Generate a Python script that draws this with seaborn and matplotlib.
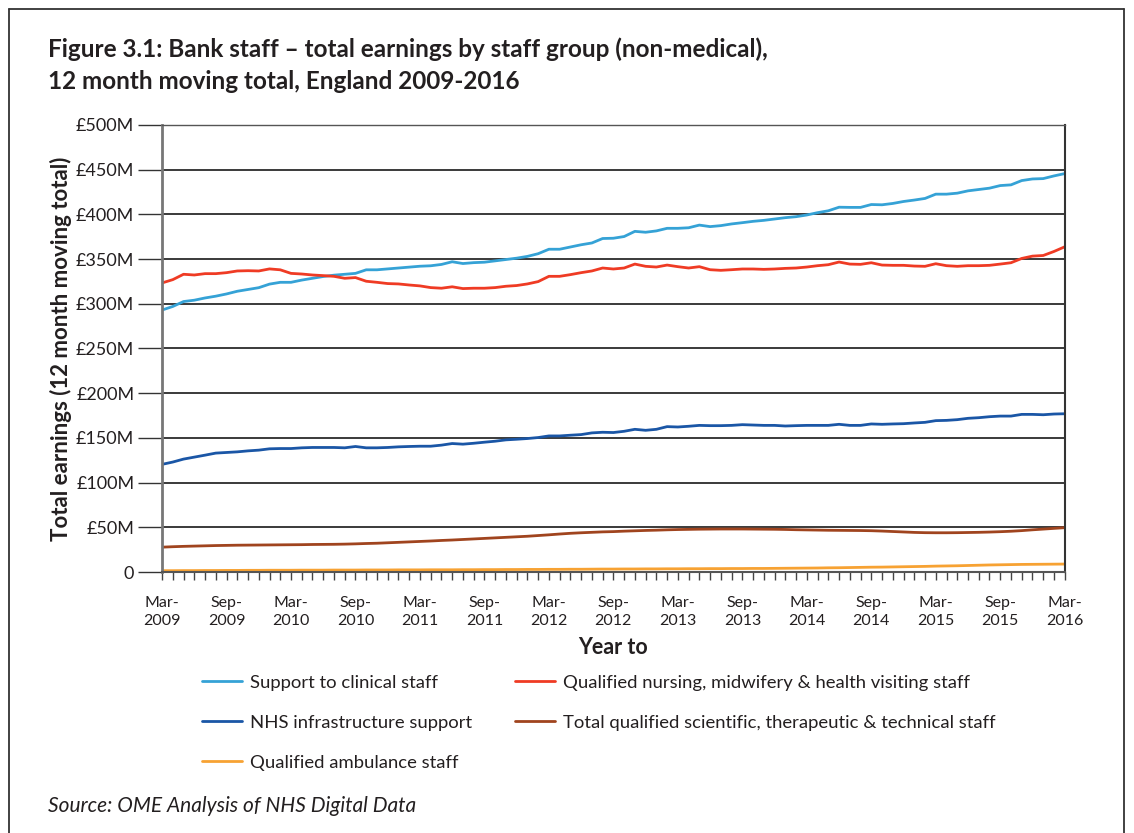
import matplotlib
matplotlib.use("Agg")
import matplotlib.pyplot as plt
from matplotlib.lines import Line2D
import seaborn as sns
import pandas as pd
import numpy as np

# ---------------- data ----------------
months = list(range(85))  # Mar-2009 .. Mar-2016, monthly
tick_labels = ["Mar-\n2009", "Sep-\n2009", "Mar-\n2010", "Sep-\n2010", "Mar-\n2011",
               "Sep-\n2011", "Mar-\n2012", "Sep-\n2012", "Mar-\n2013", "Sep-\n2013",
               "Mar-\n2014", "Sep-\n2014", "Mar-\n2015", "Sep-\n2015", "Mar-\n2016"]

support_clinical = [293, 297, 302.5, 304, 306.5, 308.5, 311, 314, 316, 318, 322, 324, 324, 326.5,
                    328.5, 330.5, 332, 333, 334, 338, 338, 339, 340, 341, 342, 342.5, 344, 347, 345,
                    346, 346.5, 348, 349.5, 351, 353, 356, 361, 361, 363.5, 366, 368, 373,
                    373.3, 375.2, 381, 380, 381.5, 384.4, 384.4, 385, 388, 386.3, 387.4, 389.3,
                    390.7, 392.2, 393.3, 394.8, 396.3, 397.4, 399.3, 401.9, 404, 408, 407.8, 407.8,
                    411, 410.7, 412.2, 414.4, 416, 417.8, 422.6, 422.6, 423.7, 426.3, 427.8, 429.3,
                    432.2, 433, 437.8, 439.6, 440, 443, 445.6]
nursing = [323.3, 327, 333, 332.2, 333.7, 333.7, 334.8, 336.7, 337, 336.7, 339, 338, 334, 333.3,
           332.2, 331.5, 330.7, 328.5, 329.3, 325.2, 324, 322.6, 322.2, 321, 320, 318.1, 317.4,
           319, 317, 317.4, 317.4, 318.1, 319.6, 320.4, 322.2, 324.8, 330.7, 330.7, 332.6, 334.8,
           336.7, 340,
           338.9, 340, 344.4, 341.9, 341.1, 343.3, 341.5, 340, 341.5, 338.1, 337.4, 338.1, 338.9,
           338.9, 338.5, 338.9, 339.6, 340, 341.1, 342.6, 343.7, 346.7, 344.4, 344.1, 345.9,
           343.3, 343, 343, 342.2, 341.9, 344.8, 342.6, 341.9, 342.6, 342.6, 343, 344.4, 345.9,
           350.7, 353.3, 354, 358.5, 363.7]
infrastructure = [120.4, 123, 126.3, 128.5, 130.7, 133, 133.7, 134.4, 135.5, 136.3, 137.8, 138.1,
                  138.1, 138.9, 139.3, 139.3, 139.3, 138.9, 140.4, 138.9, 138.9, 139.3, 140, 140.4,
                  140.7, 140.7, 141.9, 143.7, 143, 144, 145.2, 146.3, 147.8, 148.5, 149.3, 150.4,
                  152.2, 152.2, 153, 153.7, 155.6, 156.3,
                  156, 157.4, 159.6, 158.5, 159.6, 162.6, 162.2, 163, 164, 163.7, 163.7, 164, 164.8,
                  164.4, 164, 164, 163.3, 163.7, 164, 164, 164, 165.2, 164, 164, 165.6, 165.2,
                  165.6, 165.9, 166.7, 167.4, 169.3, 169.6, 170.4, 171.9, 172.6, 173.7, 174.4,
                  174.4, 176.3, 176.3, 175.9, 176.7, 177]
scientific = [27.8, 28.3, 28.7, 29.0, 29.3, 29.6, 29.8, 30.0, 30.1, 30.2, 30.3, 30.4, 30.5, 30.6,
              30.8, 30.9, 31.0, 31.2, 31.5, 31.9, 32.2, 32.7, 33.2, 33.7, 34.2, 34.7, 35.3, 35.8,
              36.4, 37.0, 37.6, 38.2, 38.8, 39.4, 40.0, 40.8, 41.6, 42.5, 43.3, 43.9, 44.4, 44.9,
              45.2, 45.7, 46.1, 46.5, 46.8, 47.2, 47.5, 47.7, 47.9, 48.0, 48.1, 48.1, 48.1, 48.0,
              47.9, 47.8, 47.6, 47.3, 47.1, 46.9, 46.7, 46.6, 46.5, 46.4, 46.2, 45.8, 45.3, 44.8,
              44.3, 44.0, 43.9, 43.9, 44.0, 44.2, 44.4, 44.7, 45.1, 45.6, 46.3, 47.2, 48.0, 48.8,
              49.6]
ambulance = [1.5, 1.5, 1.6, 1.6, 1.7, 1.7, 1.8, 1.8, 1.9, 1.9, 2.0, 2.0, 2.0, 2.1, 2.1, 2.1, 2.2,
             2.2, 2.2, 2.3, 2.3, 2.3, 2.4, 2.4, 2.4, 2.5, 2.5, 2.5, 2.6, 2.6, 2.7, 2.7, 2.8, 2.8,
             2.9, 2.9, 3.0, 3.0, 3.1, 3.1, 3.2, 3.3,
             3.3, 3.4, 3.4, 3.5, 3.5, 3.6, 3.6, 3.7, 3.7, 3.8, 3.8, 3.9, 3.9, 4.0, 4.0, 4.1, 4.2,
             4.3, 4.4, 4.5, 4.7, 4.8, 5.0, 5.2, 5.4, 5.5, 5.7, 5.9, 6.1, 6.3, 6.6, 6.8, 7.0, 7.3,
             7.6, 7.9, 8.1, 8.3, 8.5, 8.6, 8.7, 8.8, 8.9]

series_names = ["Support to clinical staff",
                "Qualified nursing, midwifery & health visiting staff",
                "NHS infrastructure support",
                "Total qualified scientific, therapeutic & technical staff",
                "Qualified ambulance staff"]
series_values = [support_clinical, nursing, infrastructure, scientific, ambulance]
colors = ["#35a2d6", "#ef3b24", "#1a56a6", "#a0441e", "#f7a233"]

y_ticks = [0, 50, 100, 150, 200, 250, 300, 350, 400, 450, 500]
y_tick_labels = ["0", "£50M", "£100M", "£150M", "£200M", "£250M", "£300M", "£350M",
                 "£400M", "£450M", "£500M"]

title_lines = ["Figure 3.1: Bank staff – total earnings by staff group (non-medical),",
               "12 month moving total, England 2009-2016"]

# ---------------- frame ----------------
rows = []
for name, vals in zip(series_names, series_values):
    for m, v in zip(months, vals):
        rows.append({"month": m, "value": v, "series": name})
df = pd.DataFrame(rows)

sns.set_style("white")
plt.rcParams["font.family"] = ["Lato", "DejaVu Sans"]
text_color = "#231f20"

W, H = 1134, 833
fig = plt.figure(figsize=(11.34, 8.33), dpi=100)
ax = fig.add_axes([0.1429, 0.3133, 0.796, 0.5367])

sns.lineplot(data=df, x="month", y="value", hue="series", hue_order=series_names,
             palette=dict(zip(series_names, colors)), linewidth=2.0, ax=ax, legend=False)

ax.set_xlim(0, 84)
ax.set_ylim(0, 500)
ax.set_yticks(y_ticks)
ax.set_yticklabels(y_tick_labels, fontsize=13, color=text_color)
ax.set_xticks(months[::6])
ax.set_xticklabels(tick_labels, fontsize=11.5, color=text_color, linespacing=1.35)
ax.set_xticks(months, minor=True)
ax.tick_params(axis="y", which="major", length=17, width=1.0, color="#333333", pad=3,
               direction="out", left=True)
ax.tick_params(axis="x", which="both", length=5.5, width=1.0, color="#444444",
               direction="out", bottom=True, pad=12)

for y in y_ticks[1:]:
    ax.axhline(y, color="#2b2b2b", linewidth=1.3, zorder=0)

for side in ["left", "right", "bottom", "top"]:
    ax.spines[side].set_visible(True)
ax.spines["left"].set_color("#777777")
ax.spines["left"].set_linewidth(2.0)
ax.spines["bottom"].set_color("#555555")
ax.spines["bottom"].set_linewidth(1.5)
ax.spines["right"].set_color("#333333")
ax.spines["right"].set_linewidth(1.5)
ax.spines["top"].set_color("#555555")
ax.spines["top"].set_linewidth(1.0)

ax.set_xlabel("Year to", fontsize=15.5, fontweight="bold", color=text_color, labelpad=6)
ax.set_ylabel("Total earnings (12 month moving total)", fontsize=16, fontweight="bold",
              color=text_color, labelpad=3)

# title (two lines, placed by baseline)
fig.text(48 / W, 1 - 57 / H, title_lines[0], fontsize=17.5, fontweight="bold",
         color=text_color, ha="left", va="baseline")
fig.text(48 / W, 1 - 89 / H, title_lines[1], fontsize=17.5, fontweight="bold",
         color=text_color, ha="left", va="baseline")

# legend (two columns)
handles = [Line2D([0], [0], color=c, linewidth=2.0) for c in colors]
leg_kw = dict(loc="upper left", frameon=False, fontsize=13.3, handlelength=2.2,
              handletextpad=0.4, labelspacing=1.3, labelcolor=text_color)
fig.legend([handles[0], handles[2], handles[4]],
           [series_names[0], series_names[2], series_names[4]],
           bbox_to_anchor=(185 / W, 1 - 658 / H), **leg_kw)
fig.legend([handles[1], handles[3]], [series_names[1], series_names[3]],
           bbox_to_anchor=(498 / W, 1 - 658 / H), **leg_kw)

fig.text(48 / W, 1 - 812 / H, "Source: OME Analysis of NHS Digital Data",
         fontsize=15, style="italic", color=text_color, ha="left", va="baseline")

# outer frame lines
fig.add_artist(Line2D([9 / W, 9 / W], [0, 1 - 9 / H], transform=fig.transFigure,
                      color="#333333", linewidth=1.3))
fig.add_artist(Line2D([9 / W, 1124 / W], [1 - 9 / H, 1 - 9 / H],
                      transform=fig.transFigure, color="#333333", linewidth=1.3))
fig.add_artist(Line2D([1124 / W, 1124 / W], [0, 1 - 9 / H], transform=fig.transFigure,
                      color="#333333", linewidth=1.3))

fig.savefig("out.png", dpi=100)
